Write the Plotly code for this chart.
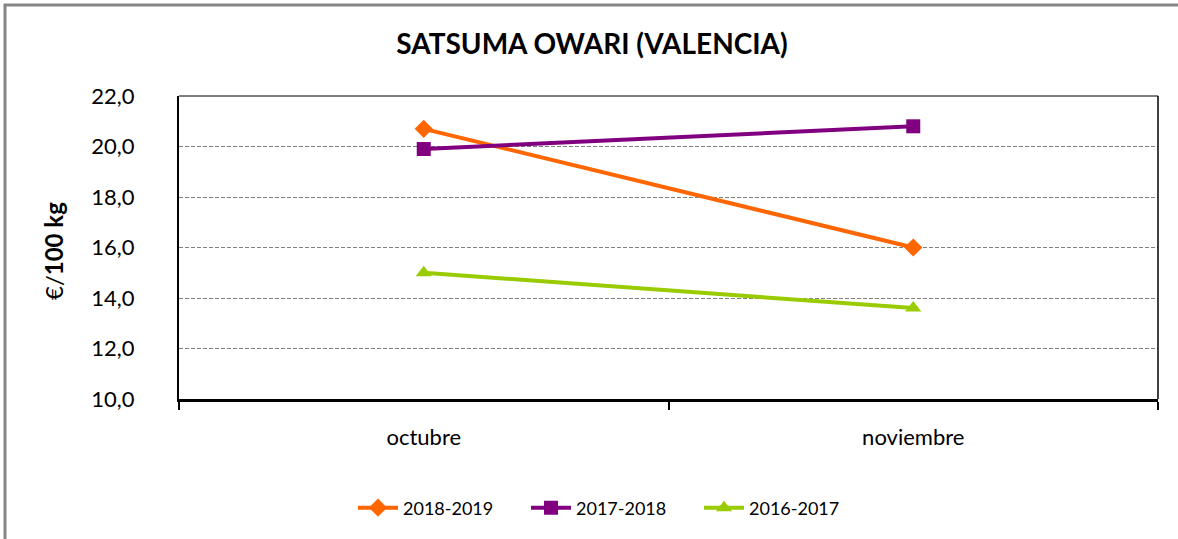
import plotly.graph_objects as go

categories = ["octubre", "noviembre"]
series_names = ["2018-2019", "2017-2018", "2016-2017"]
values_2018_2019 = [20.7, 16.0]
values_2017_2018 = [19.9, 20.8]
values_2016_2017 = [15.0, 13.6]
y_ticks = [10, 12, 14, 16, 18, 20, 22]

colors = ["#FF6600", "#800080", "#99CC00"]
symbols = ["diamond", "square", "triangle-up"]
all_values = [values_2018_2019, values_2017_2018, values_2016_2017]

FONT = "Lato"

fig = go.Figure()
for name, vals, col, sym in zip(series_names, all_values, colors, symbols):
    fig.add_trace(go.Scatter(
        x=categories, y=vals, name=name, mode="lines+markers",
        line=dict(color=col, width=4),
        marker=dict(symbol=sym, size=14, color=col),
    ))

W, H = 1178, 539
L, R, T, B = 179, 20, 96, 140
pw, ph = W - L - R, H - T - B

def px_x(p):
    return (p - L) / pw

def px_y(p):
    return (H - B - p) / ph

shapes = [
    # outer chart frame
    dict(type="rect", xref="paper", yref="paper",
         x0=px_x(5), x1=px_x(1190), y0=px_y(5), y1=px_y(560),
         line=dict(color="#868686", width=3), layer="below"),
    # plot-area border (top/right)
    dict(type="line", xref="paper", yref="paper", x0=0, x1=1, y0=1, y1=1,
         line=dict(color="black", width=1)),
    dict(type="line", xref="paper", yref="paper", x0=1, x1=1, y0=0, y1=1,
         line=dict(color="black", width=1.5)),
]

annotations = [
    dict(text="€/<b>100 kg</b>", xref="paper", yref="paper",
         x=px_x(53), y=px_y(251), xanchor="center", yanchor="middle",
         textangle=-90, showarrow=False,
         font=dict(family=FONT, size=24, color="black")),
]

fig.update_layout(
    width=W, height=H,
    margin=dict(l=L, r=R, t=T, b=B),
    paper_bgcolor="white", plot_bgcolor="white",
    separators=",.",
    font=dict(family=FONT, size=22, color="black"),
    title=dict(text="<b>SATSUMA OWARI (VALENCIA)</b>", x=px_x(592), xanchor="center",
               xref="paper", y=1 - 44 / H, yanchor="middle",
               font=dict(family=FONT, size=28, color="black")),
    showlegend=True,
    legend=dict(orientation="h", x=px_x(353), xanchor="left",
                y=px_y(508), yanchor="middle",
                font=dict(family=FONT, size=18, color="black"),
                itemwidth=40,
                entrywidth=118, entrywidthmode="pixels"),
    shapes=shapes,
    annotations=annotations,
)

fig.update_xaxes(
    type="category", range=[-0.5, 1.5],
    showline=True, linecolor="black", linewidth=3,
    ticks="outside", tickson="boundaries", ticklen=8, tickwidth=2, tickcolor="black",
    showgrid=False, ticklabelstandoff=17,
    tickfont=dict(family=FONT, size=22, color="black"),
)
fig.update_yaxes(
    range=[10, 22], tickvals=y_ticks, tickformat=".1f",
    showline=True, linecolor="black", linewidth=2,
    ticks="", showgrid=True, gridcolor="#808080", gridwidth=1, griddash="4px,2px",
    zeroline=False, ticklabelstandoff=38,
    tickfont=dict(family=FONT, size=22, color="black"),
)

fig.write_html(
    "out.html",
    config={"displayModeBar": False},
    post_script="document.body.style.margin='0';document.body.style.overflow='hidden';",
)
